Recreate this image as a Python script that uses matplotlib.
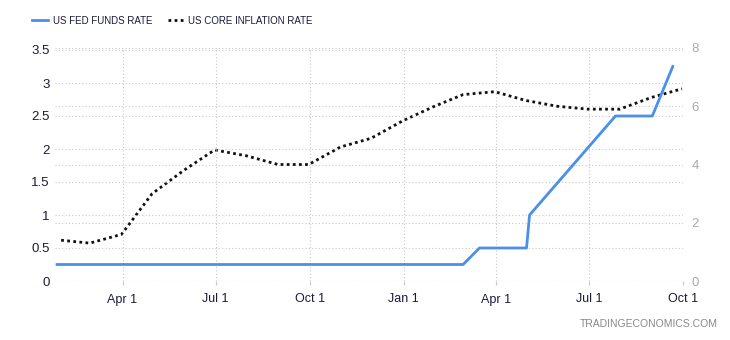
import matplotlib
matplotlib.use("Agg")
import matplotlib.pyplot as plt
import matplotlib.dates as mdates
import pandas as pd

# US Fed funds rate (upper bound), plotted on policy dates
fed_dates = ["2021-01-27", "2022-02-28", "2022-03-16", "2022-05-01",
             "2022-05-04", "2022-07-27", "2022-09-01", "2022-09-21"]
fed_rate = [0.25, 0.25, 0.5, 0.5, 1.0, 2.5, 2.5, 3.25]

# US core inflation rate, month-end
core_dates = pd.date_range("2021-01-31", "2022-09-30", freq="ME")
core_rate = [1.4, 1.3, 1.6, 3.0, 3.8, 4.5, 4.3, 4.0, 4.0, 4.6, 4.9, 5.5,
             6.0, 6.4, 6.5, 6.2, 6.0, 5.9, 5.9, 6.3, 6.6]

left_ticks = [0, 0.5, 1, 1.5, 2, 2.5, 3, 3.5]
left_labels = ["0", "0.5", "1", "1.5", "2", "2.5", "3", "3.5"]
right_ticks = [0, 2, 4, 6, 8]

plt.rcParams["font.family"] = ["Liberation Sans", "DejaVu Sans"]

fig = plt.figure(figsize=(7.3, 3.4), dpi=100)
ax = fig.add_axes([55 / 730, 59 / 340, 628 / 730, 233 / 340])
ax2 = ax.twinx()

grid_kw = dict(color="#c8c8c8", linestyle=(0, (1, 2)), linewidth=0.8)

ax.plot(pd.to_datetime(fed_dates), fed_rate, color="#4a8fe8", linewidth=2,
        label="US FED FUNDS RATE", zorder=3)
ax2.plot(core_dates, core_rate, color="#111111", linewidth=2.0,
         linestyle=(0, (1, 1.2)), label="US CORE INFLATION RATE", zorder=3)

ax.set_xlim(pd.Timestamp("2021-01-25"), pd.Timestamp("2022-10-01"))
ax.set_ylim(0, 3.5 * 233 / 231)
ax2.set_ylim(0, 8)

ax.set_yticks(left_ticks)
ax.set_yticklabels(left_labels)
ax2.set_yticks(right_ticks)

ax.xaxis.set_major_locator(mdates.MonthLocator(bymonth=[1, 4, 7, 10], bymonthday=1))
ax.xaxis.set_major_formatter(mdates.DateFormatter("%b %-d"))

ax.grid(True, axis="both", **grid_kw)
ax2.grid(True, axis="y", **grid_kw)

for a in (ax, ax2):
    for s in a.spines.values():
        s.set_visible(False)

ax.tick_params(axis="x", length=3, color="#c8c8c8", labelsize=9,
               labelcolor="#1a1a3a", pad=6)
ax.tick_params(axis="y", length=0, labelsize=9.5, labelcolor="#1a1a3a", pad=4)
ax2.tick_params(axis="y", length=0, labelsize=9.5, labelcolor="#aaaaaa", pad=6)

ax.set_zorder(ax2.get_zorder() + 1)
ax.patch.set_visible(False)

h1, l1 = ax.get_legend_handles_labels()
h2, l2 = ax2.get_legend_handles_labels()
fig.legend(h1 + h2, l1 + l2, loc="upper left", bbox_to_anchor=(0.032, 0.98),
           ncol=2, frameon=False, fontsize=7, handlelength=1.6,
           handletextpad=0.5, columnspacing=1.6, labelcolor="#1a1a3a")

fig.text(0.984, 0.032, "TRADINGECONOMICS.COM", ha="right", va="bottom",
         fontsize=7.5, color="#888888")

fig.savefig("out.png", dpi=100)
